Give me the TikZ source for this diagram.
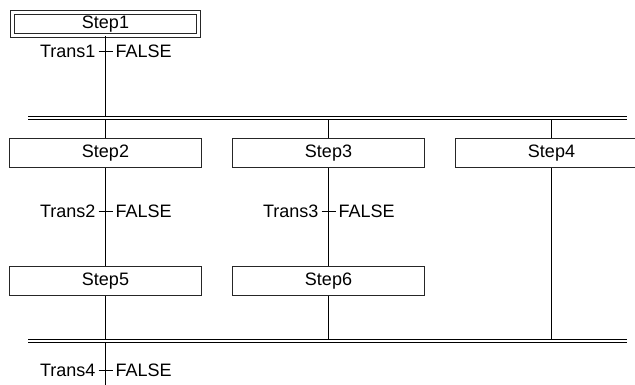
\documentclass[tikz,border=0pt]{standalone}
\usepackage{fontspec}
\setmainfont{Liberation Sans}
\begin{document}
\begin{tikzpicture}[x=1pt,y=-1pt,
  line width=1.1pt,
  every node/.style={font=\fontsize{18}{21}\selectfont},
  stepbox/.style={draw=black!85, rectangle, minimum width=192pt, minimum height=29pt, inner sep=0pt},
  initbox/.style={draw=black!85, rectangle, double, double distance=3pt, line width=1pt, minimum width=186pt, minimum height=23pt, inner sep=0pt},
  wire/.style={draw=black},
  tick/.style={draw=black},
  bar/.style={draw=black, line width=1.4pt}]
\useasboundingbox (0,0) rectangle (635,385);

% steps
\node[initbox] (s1) at (105.5,24) {Step1};
\node[stepbox] (s2) at (105.5,153) {Step2};
\node[stepbox] (s3) at (328.5,153) {Step3};
\node[stepbox] (s4) at (551.5,153) {Step4};
\node[stepbox] (s5) at (105.5,281) {Step5};
\node[stepbox] (s6) at (328.5,281) {Step6};

% simultaneous divergence / convergence bars
\coordinate (b1l) at (28,116.5);
\coordinate (b1r) at (627,116.5);
\coordinate (b2l) at (28,339.5);
\coordinate (b2r) at (627,339.5);
\draw[bar] (b1l) -- (b1r) ([yshift=-3pt]b1l) -- ([yshift=-3pt]b1r);
\draw[bar] (b2l) -- (b2r) ([yshift=-3pt]b2l) -- ([yshift=-3pt]b2r);

% transition points
\coordinate (t1) at (105.5,51.5);
\coordinate (t2) at (105.5,211.5);
\coordinate (t3) at (328.5,211.5);
\coordinate (t4) at (105.5,370.5);
\coordinate (end) at (105.5,385);

% connections
\draw[wire] (s1.south) -- (t1) -- (s1.south |- b1l);
\draw[wire] (s2.north |- b1l) ++(0,3) -- (s2.north);
\draw[wire] (s3.north |- b1l) ++(0,3) -- (s3.north);
\draw[wire] (s4.north |- b1l) ++(0,3) -- (s4.north);
\draw[wire] (s2.south) -- (t2) -- (s5.north);
\draw[wire] (s3.south) -- (t3) -- (s6.north);
\draw[wire] (s5.south) -- (s5.south |- b2l);
\draw[wire] (s6.south) -- (s6.south |- b2l);
\draw[wire] (s4.south) -- (s4.south |- b2l);
\draw[wire] (s5.south |- b2l) ++(0,3) -- (t4) -- (end);

% transition ticks and labels
\foreach \t/\n in {t1/Trans1, t2/Trans2, t3/Trans3, t4/Trans4}{
  \draw[tick] ([xshift=-7pt]\t) -- ([xshift=7pt]\t);
  \node[anchor=east, inner sep=0pt] (\t-name) at ([xshift=-9.5pt]\t) {\n};
  \node[anchor=west, inner sep=0pt] (\t-val) at ([xshift=9.5pt]\t) {FALSE};
}
\end{tikzpicture}
\end{document}
